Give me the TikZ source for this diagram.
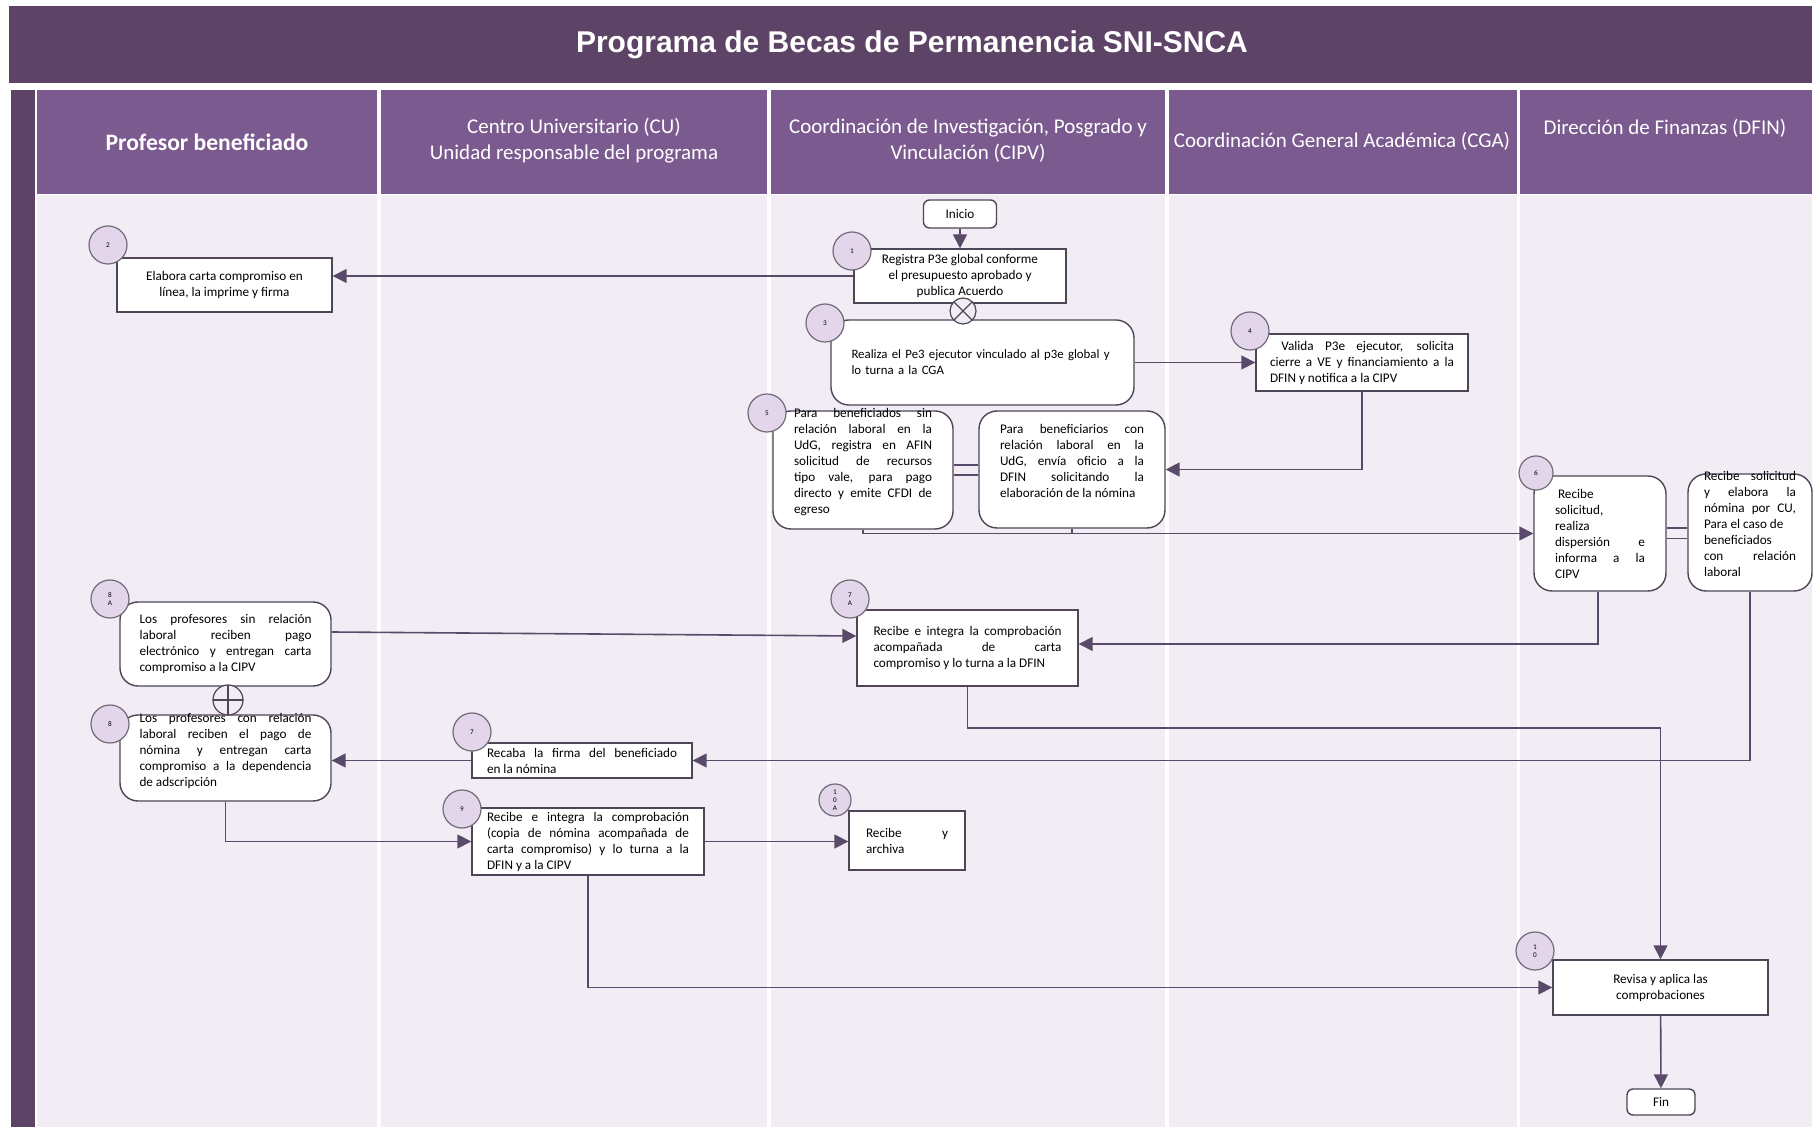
\documentclass[tikz,border=0pt]{standalone}
\usepackage{fontspec}
\setmainfont{Carlito}
\newfontfamily\titlefont{Liberation Sans}
\usetikzlibrary{arrows.meta}
\tolerance=10000
\hbadness=10000
\definecolor{morado}{HTML}{5D4466}
\definecolor{moradoclaro}{HTML}{7B5B8F}
\definecolor{fondo}{HTML}{F2EDF5}
\definecolor{bolita}{HTML}{E4D6EA}
\definecolor{borde}{HTML}{4E4557}
\definecolor{linea}{HTML}{5A4A69}
\tikzset{
  paso/.style={draw=borde, fill=white, line width=0.7pt, inner sep=2pt, font=\fontsize{6.6}{8}\selectfont, align=justify},
  pasor/.style={paso, rounded corners=9pt},
  textosube/.style={font=\fontsize{6.6}{8}\selectfont, align=justify, inner sep=0pt},
  num/.style={circle, draw=borde!80, fill=bolita, line width=0.6pt, minimum size=19pt, inner sep=0pt, font=\fontsize{3.6}{3.9}\selectfont, align=center},
  flecha/.style={draw=linea, line width=0.8pt, -{Triangle[length=7pt,width=7pt]}},
  liga/.style={draw=linea, line width=0.8pt},
  encab/.style={text=white, font=\fontsize{10.5}{13.1}\selectfont, align=center}
}
\begin{document}
\begin{tikzpicture}[x=0.5pt,y=-0.5pt]
\fill[white] (0,0) rectangle (1814,1127);
\useasboundingbox (0,0) rectangle (1814,1127);
\fill[morado] (9,6) rectangle (1812,83);
\node[text=white, font=\titlefont\fontsize{15}{17}\selectfont\bfseries] (titulo) at (912,45) {Programa de Becas de Permanencia SNI-SNCA};
\fill[morado] (11,90) rectangle (35,1127);
\foreach \xa/\xb in {37/377, 381/767, 771/1165, 1169/1517, 1520/1812} {
  \fill[moradoclaro] (\xa,90) rectangle (\xb,194);
  \fill[fondo] (\xa,195) rectangle (\xb,1127);
}
\node[encab, font=\fontsize{11.8}{13.1}\selectfont\bfseries] (h1) at (207,142) {Profesor beneficiado};
\node[encab] (h2) at (574,141) {Centro Universitario (CU)\\Unidad responsable del programa};
\node[encab] (h3) at (968,141) {Coordinación de Investigación, Posgrado y\\Vinculación (CIPV)};
\node[encab] (h4) at (1342,141) {Coordinación General Académica (CGA)};
\node[encab] (h5) at (1665,128) {Dirección de Finanzas (DFIN)};

\node[paso, rounded corners=3pt, align=center, minimum width=36.5pt, minimum height=14pt] (inicio) at (960,214) {Inicio};
\node[paso, align=center, minimum width=106pt, minimum height=27pt] (p1) at (960,276) {Registra P3e global conforme\\el presupuesto aprobado y\\publica Acuerdo};
\node[paso, align=center, minimum width=107.5pt, minimum height=27pt] (p2) at (224.5,285) {Elabora carta compromiso en\\línea, la imprime y firma};
\node[pasor, align=left, text width=131pt, minimum width=151.5pt, minimum height=42.5pt, font=\fontsize{6.4}{8}\selectfont] (p3) at (982.5,362.5) {Realiza el Pe3 ejecutor vinculado al p3e global y\\lo turna a la CGA};
\node[paso, text width=92pt, minimum width=106pt, minimum height=28.5pt] (p4) at (1362,362.5) {\ Valida P3e ejecutor, solicita\linebreak cierre a VE y financiamiento a la\linebreak DFIN y notifica a la CIPV};
\node[pasor, minimum width=90pt, minimum height=59pt, label={[textosube, text width=69pt, yshift=4pt]center:{Para beneficiados sin\linebreak relación laboral en la\linebreak UdG, registra en AFIN\linebreak solicitud de recursos\linebreak tipo vale, para pago\linebreak directo y emite CFDI de\linebreak egreso}}] (p5a) at (863,470) {};
\node[pasor, minimum width=93pt, minimum height=58.5pt, label={[textosube, text width=72pt, yshift=4.5pt]center:{Para beneficiarios con\linebreak relación laboral en la\linebreak UdG, envía oficio a la\linebreak DFIN solicitando la\linebreak elaboración de la nómina}}] (p5b) at (1072,469.5) {};
\node[pasor, text width=45pt, minimum width=66pt, minimum height=57.5pt] (p6a) at (1600,533.5) {\ Recibe\\solicitud,\\realiza\\dispersión e\linebreak informa a la\linebreak CIPV};
\node[pasor, minimum width=62pt, minimum height=58.5pt, label={[textosube, text width=46pt, yshift=4.5pt]center:{Recibe solicitud\linebreak y elabora la\linebreak nómina por CU,\linebreak Para el caso de\\beneficiados\\con relación\linebreak laboral}}] (p6b) at (1750,532.5) {};
\node[paso, text width=94pt, minimum width=110.5pt, minimum height=38pt] (p7a) at (967.5,648) {Recibe e integra la comprobación\linebreak acompañada de carta\linebreak \mbox{compromiso y lo turna a la DFIN}};
\node[pasor, text width=86pt, minimum width=105.5pt, minimum height=42pt] (p8a) at (225.5,644) {Los profesores sin relación\linebreak laboral reciben pago\linebreak electrónico y entregan carta\linebreak compromiso a la CIPV};
\node[pasor, minimum width=105.5pt, minimum height=43pt, label={[textosube, text width=86pt, yshift=3.5pt]center:{Los profesores con relación\linebreak laboral reciben el pago de\linebreak nómina y entregan carta\linebreak compromiso a la dependencia\linebreak de adscripción}}] (p8) at (225.5,758) {};
\node[paso, text width=95pt, minimum width=110pt, minimum height=17.5pt] (p7) at (582,760.5) {Recaba la firma del beneficiado\linebreak en la nómina};
\node[paso, text width=101pt, minimum width=116pt, minimum height=30.5pt] (p9) at (588,841.5) {Recibe e integra la comprobación\linebreak (copia de nómina acompañada de\linebreak carta compromiso) y lo turna a la\linebreak DFIN y a la CIPV};
\node[paso, text width=41pt, minimum width=58pt, minimum height=29.5pt] (p10a) at (907,840.5) {Recibe y\linebreak archiva};
\node[paso, align=center, minimum width=107.5pt, minimum height=27.5pt] (p10) at (1660.5,987.5) {Revisa y aplica las\\comprobaciones};
\node[paso, rounded corners=3pt, align=center, minimum width=34pt, minimum height=13pt] (fin) at (1661,1102) {Fin};

\node[num] (c1) at (852,251) {1};
\node[num] (c2) at (108,245) {2};
\node[num] (c3) at (825,323) {3};
\node[num] (c4) at (1250,331) {4};
\node[num] (c5) at (767,413) {5};
\node[num, minimum size=17pt] (c6) at (1536,473) {6};
\node[num] (c7a) at (850,599) {7\\A};
\node[num] (c8a) at (110,599) {8\\A};
\node[num] (c8) at (110,724) {8};
\node[num] (c7) at (472,732) {7};
\node[num] (c9) at (462,809) {9};
\node[num, minimum size=16pt] (c10a) at (835,800) {1\\0\\A};
\node[num] (c10) at (1535,951) {1\\0};

\node[circle, draw=borde, fill=fondo, line width=0.6pt, minimum size=13pt, path picture={\draw[borde, line width=0.6pt] (path picture bounding box.north west) -- (path picture bounding box.south east) (path picture bounding box.north east) -- (path picture bounding box.south west);}] (cruzx) at (963,311) {};
\node[circle, draw=borde, fill=fondo, line width=0.6pt, minimum size=15pt, path picture={\draw[borde, line width=0.6pt] (path picture bounding box.north) -- (path picture bounding box.south) (path picture bounding box.east) -- (path picture bounding box.west);}] (cruzmas) at (228,700) {};

\draw[flecha] (inicio) -- (p1);
\draw[flecha] (p1.west) -- (p1.west -| p2.east);
\draw[flecha] (p3.east) -- (p3.east -| p4.west);
\draw[flecha] (p4.south) |- (p5b.east);
\draw[liga] ([yshift=2.6pt]p5a.east) -- ([yshift=2.6pt]p5a.east -| p5b.west);
\draw[liga] ([yshift=-2.6pt]p5a.east) -- ([yshift=-2.6pt]p5a.east -| p5b.west);
\draw[flecha] (p5a.south) |- (p6a.west);
\draw[liga] (p5b.south) -- (p5b.south |- p6a.west);
\draw[liga] ([yshift=2.6pt]p6a.east) -- ([yshift=2.6pt]p6a.east -| p6b.west);
\draw[liga] ([yshift=-2.6pt]p6a.east) -- ([yshift=-2.6pt]p6a.east -| p6b.west);
\draw[flecha] ([xshift=-1pt]p6a.south) |- ([yshift=2pt]p7a.east);
\draw[flecha] (p6b.south) |- (p7.east);
\draw[flecha] ([yshift=6pt]p8a.east) -- ([yshift=6pt]p7a.west);
\draw[flecha] (p7a.south) -- ++(0,41) -| (p10.north);
\draw[flecha] (p7.west) -- (p7.west -| p8.east);
\draw[flecha] (p8.south) |- (p9.west);
\draw[flecha] (p9.east) -- (p9.east -| p10a.west);
\draw[flecha] (p9.south) |- (p10.west);
\draw[flecha] (p10) -- (fin);
\end{tikzpicture}
\end{document}
